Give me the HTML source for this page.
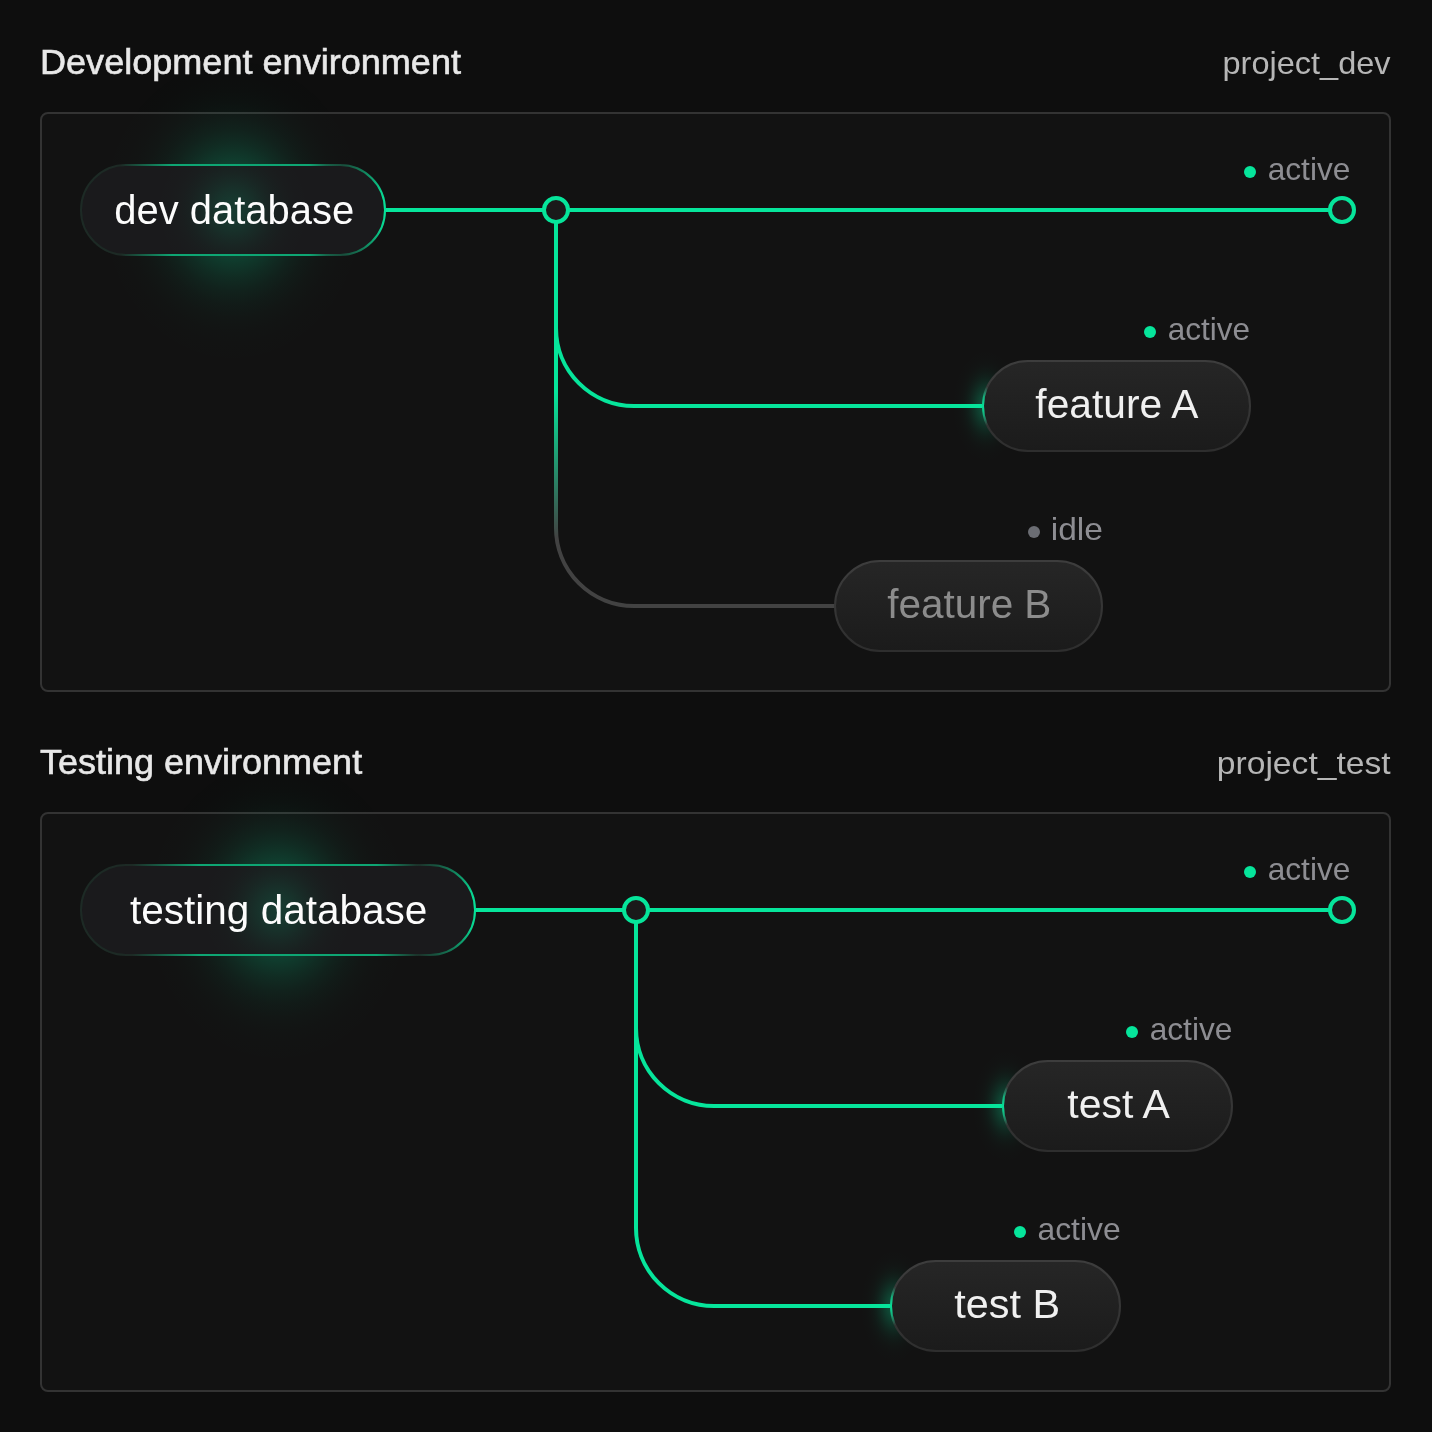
<!DOCTYPE html>
<html><head><meta charset="utf-8"><style>
html,body{margin:0;padding:0;background:#0e0e0e;}
svg{display:block}
text{font-family:"Liberation Sans", sans-serif;}
</style></head><body>
<svg width="1432" height="1432" viewBox="0 0 1432 1432">
<defs><linearGradient id="cf" x1="0" y1="0" x2="0" y2="1">
 <stop offset="0" stop-color="#262626"/>
 <stop offset="1" stop-color="#1b1b1b"/>
</linearGradient>
<linearGradient id="cb" x1="0" y1="0" x2="0" y2="1">
 <stop offset="0" stop-color="#3d3d3d"/>
 <stop offset="1" stop-color="#2e2e2e"/>
</linearGradient>
<linearGradient id="fade1" gradientUnits="userSpaceOnUse" x1="0" y1="392" x2="0" y2="538">
 <stop offset="0" stop-color="#06e59b"/>
 <stop offset="1" stop-color="#424242"/>
</linearGradient><radialGradient id="glow1" gradientUnits="userSpaceOnUse" cx="233.0" cy="210" r="147.5" gradientTransform="translate(233.0 210) scale(0.95 1.1) translate(-233.0 -210)"><stop offset="0.000" stop-color="#06e59b" stop-opacity="0.3600"/><stop offset="0.083" stop-color="#06e59b" stop-opacity="0.3447"/><stop offset="0.167" stop-color="#06e59b" stop-opacity="0.3026"/><stop offset="0.250" stop-color="#06e59b" stop-opacity="0.2436"/><stop offset="0.333" stop-color="#06e59b" stop-opacity="0.1798"/><stop offset="0.417" stop-color="#06e59b" stop-opacity="0.1216"/><stop offset="0.500" stop-color="#06e59b" stop-opacity="0.0755"/><stop offset="0.583" stop-color="#06e59b" stop-opacity="0.0429"/><stop offset="0.667" stop-color="#06e59b" stop-opacity="0.0224"/><stop offset="0.750" stop-color="#06e59b" stop-opacity="0.0107"/><stop offset="0.833" stop-color="#06e59b" stop-opacity="0.0047"/><stop offset="0.917" stop-color="#06e59b" stop-opacity="0.0019"/><stop offset="1.000" stop-color="#06e59b" stop-opacity="0.0007"/></radialGradient><radialGradient id="inglow1" gradientUnits="userSpaceOnUse" cx="233.0" cy="210" r="87.5"><stop offset="0.000" stop-color="#06e59b" stop-opacity="0.1600"/><stop offset="0.083" stop-color="#06e59b" stop-opacity="0.1532"/><stop offset="0.167" stop-color="#06e59b" stop-opacity="0.1345"/><stop offset="0.250" stop-color="#06e59b" stop-opacity="0.1083"/><stop offset="0.333" stop-color="#06e59b" stop-opacity="0.0799"/><stop offset="0.417" stop-color="#06e59b" stop-opacity="0.0541"/><stop offset="0.500" stop-color="#06e59b" stop-opacity="0.0335"/><stop offset="0.583" stop-color="#06e59b" stop-opacity="0.0191"/><stop offset="0.667" stop-color="#06e59b" stop-opacity="0.0099"/><stop offset="0.750" stop-color="#06e59b" stop-opacity="0.0048"/><stop offset="0.833" stop-color="#06e59b" stop-opacity="0.0021"/><stop offset="0.917" stop-color="#06e59b" stop-opacity="0.0008"/><stop offset="1.000" stop-color="#06e59b" stop-opacity="0.0003"/></radialGradient><linearGradient id="bt1" x1="0" y1="0" x2="1" y2="0"><stop offset="0.13" stop-color="#06e59b" stop-opacity="0"/><stop offset="0.30" stop-color="#06e59b" stop-opacity="0.66"/><stop offset="0.75" stop-color="#06e59b" stop-opacity="0.66"/><stop offset="0.86" stop-color="#06e59b" stop-opacity="0"/></linearGradient><radialGradient id="br1" gradientUnits="userSpaceOnUse" cx="386" cy="210" r="75"><stop offset="0" stop-color="#06e59b" stop-opacity="1"/><stop offset="0.25" stop-color="#06e59b" stop-opacity="0.9"/><stop offset="0.6" stop-color="#06e59b" stop-opacity="0.45"/><stop offset="1" stop-color="#06e59b" stop-opacity="0"/></radialGradient><radialGradient id="cg10" gradientUnits="userSpaceOnUse" cx="986" cy="406" r="60" gradientTransform="translate(986 406) scale(0.6 1) translate(-986 -406)"><stop offset="0.000" stop-color="#06e59b" stop-opacity="0.3000"/><stop offset="0.083" stop-color="#06e59b" stop-opacity="0.2873"/><stop offset="0.167" stop-color="#06e59b" stop-opacity="0.2522"/><stop offset="0.250" stop-color="#06e59b" stop-opacity="0.2030"/><stop offset="0.333" stop-color="#06e59b" stop-opacity="0.1498"/><stop offset="0.417" stop-color="#06e59b" stop-opacity="0.1014"/><stop offset="0.500" stop-color="#06e59b" stop-opacity="0.0629"/><stop offset="0.583" stop-color="#06e59b" stop-opacity="0.0358"/><stop offset="0.667" stop-color="#06e59b" stop-opacity="0.0187"/><stop offset="0.750" stop-color="#06e59b" stop-opacity="0.0089"/><stop offset="0.833" stop-color="#06e59b" stop-opacity="0.0039"/><stop offset="0.917" stop-color="#06e59b" stop-opacity="0.0016"/><stop offset="1.000" stop-color="#06e59b" stop-opacity="0.0006"/></radialGradient><radialGradient id="cbg10" gradientUnits="userSpaceOnUse" cx="982" cy="406" r="20"><stop offset="0" stop-color="#06e59b" stop-opacity="1"/><stop offset="0.45" stop-color="#06e59b" stop-opacity="0.7"/><stop offset="1" stop-color="#06e59b" stop-opacity="0"/></radialGradient><radialGradient id="glow2" gradientUnits="userSpaceOnUse" cx="278.0" cy="910" r="147.5" gradientTransform="translate(278.0 910) scale(0.95 1.1) translate(-278.0 -910)"><stop offset="0.000" stop-color="#06e59b" stop-opacity="0.3600"/><stop offset="0.083" stop-color="#06e59b" stop-opacity="0.3447"/><stop offset="0.167" stop-color="#06e59b" stop-opacity="0.3026"/><stop offset="0.250" stop-color="#06e59b" stop-opacity="0.2436"/><stop offset="0.333" stop-color="#06e59b" stop-opacity="0.1798"/><stop offset="0.417" stop-color="#06e59b" stop-opacity="0.1216"/><stop offset="0.500" stop-color="#06e59b" stop-opacity="0.0755"/><stop offset="0.583" stop-color="#06e59b" stop-opacity="0.0429"/><stop offset="0.667" stop-color="#06e59b" stop-opacity="0.0224"/><stop offset="0.750" stop-color="#06e59b" stop-opacity="0.0107"/><stop offset="0.833" stop-color="#06e59b" stop-opacity="0.0047"/><stop offset="0.917" stop-color="#06e59b" stop-opacity="0.0019"/><stop offset="1.000" stop-color="#06e59b" stop-opacity="0.0007"/></radialGradient><radialGradient id="inglow2" gradientUnits="userSpaceOnUse" cx="278.0" cy="910" r="87.5"><stop offset="0.000" stop-color="#06e59b" stop-opacity="0.1600"/><stop offset="0.083" stop-color="#06e59b" stop-opacity="0.1532"/><stop offset="0.167" stop-color="#06e59b" stop-opacity="0.1345"/><stop offset="0.250" stop-color="#06e59b" stop-opacity="0.1083"/><stop offset="0.333" stop-color="#06e59b" stop-opacity="0.0799"/><stop offset="0.417" stop-color="#06e59b" stop-opacity="0.0541"/><stop offset="0.500" stop-color="#06e59b" stop-opacity="0.0335"/><stop offset="0.583" stop-color="#06e59b" stop-opacity="0.0191"/><stop offset="0.667" stop-color="#06e59b" stop-opacity="0.0099"/><stop offset="0.750" stop-color="#06e59b" stop-opacity="0.0048"/><stop offset="0.833" stop-color="#06e59b" stop-opacity="0.0021"/><stop offset="0.917" stop-color="#06e59b" stop-opacity="0.0008"/><stop offset="1.000" stop-color="#06e59b" stop-opacity="0.0003"/></radialGradient><linearGradient id="bt2" x1="0" y1="0" x2="1" y2="0"><stop offset="0.13" stop-color="#06e59b" stop-opacity="0"/><stop offset="0.30" stop-color="#06e59b" stop-opacity="0.66"/><stop offset="0.75" stop-color="#06e59b" stop-opacity="0.66"/><stop offset="0.86" stop-color="#06e59b" stop-opacity="0"/></linearGradient><radialGradient id="br2" gradientUnits="userSpaceOnUse" cx="476" cy="910" r="75"><stop offset="0" stop-color="#06e59b" stop-opacity="1"/><stop offset="0.25" stop-color="#06e59b" stop-opacity="0.9"/><stop offset="0.6" stop-color="#06e59b" stop-opacity="0.45"/><stop offset="1" stop-color="#06e59b" stop-opacity="0"/></radialGradient><radialGradient id="cg20" gradientUnits="userSpaceOnUse" cx="1006" cy="1106" r="60" gradientTransform="translate(1006 1106) scale(0.6 1) translate(-1006 -1106)"><stop offset="0.000" stop-color="#06e59b" stop-opacity="0.3000"/><stop offset="0.083" stop-color="#06e59b" stop-opacity="0.2873"/><stop offset="0.167" stop-color="#06e59b" stop-opacity="0.2522"/><stop offset="0.250" stop-color="#06e59b" stop-opacity="0.2030"/><stop offset="0.333" stop-color="#06e59b" stop-opacity="0.1498"/><stop offset="0.417" stop-color="#06e59b" stop-opacity="0.1014"/><stop offset="0.500" stop-color="#06e59b" stop-opacity="0.0629"/><stop offset="0.583" stop-color="#06e59b" stop-opacity="0.0358"/><stop offset="0.667" stop-color="#06e59b" stop-opacity="0.0187"/><stop offset="0.750" stop-color="#06e59b" stop-opacity="0.0089"/><stop offset="0.833" stop-color="#06e59b" stop-opacity="0.0039"/><stop offset="0.917" stop-color="#06e59b" stop-opacity="0.0016"/><stop offset="1.000" stop-color="#06e59b" stop-opacity="0.0006"/></radialGradient><radialGradient id="cbg20" gradientUnits="userSpaceOnUse" cx="1002" cy="1106" r="20"><stop offset="0" stop-color="#06e59b" stop-opacity="1"/><stop offset="0.45" stop-color="#06e59b" stop-opacity="0.7"/><stop offset="1" stop-color="#06e59b" stop-opacity="0"/></radialGradient><radialGradient id="cg21" gradientUnits="userSpaceOnUse" cx="894" cy="1306" r="60" gradientTransform="translate(894 1306) scale(0.6 1) translate(-894 -1306)"><stop offset="0.000" stop-color="#06e59b" stop-opacity="0.3000"/><stop offset="0.083" stop-color="#06e59b" stop-opacity="0.2873"/><stop offset="0.167" stop-color="#06e59b" stop-opacity="0.2522"/><stop offset="0.250" stop-color="#06e59b" stop-opacity="0.2030"/><stop offset="0.333" stop-color="#06e59b" stop-opacity="0.1498"/><stop offset="0.417" stop-color="#06e59b" stop-opacity="0.1014"/><stop offset="0.500" stop-color="#06e59b" stop-opacity="0.0629"/><stop offset="0.583" stop-color="#06e59b" stop-opacity="0.0358"/><stop offset="0.667" stop-color="#06e59b" stop-opacity="0.0187"/><stop offset="0.750" stop-color="#06e59b" stop-opacity="0.0089"/><stop offset="0.833" stop-color="#06e59b" stop-opacity="0.0039"/><stop offset="0.917" stop-color="#06e59b" stop-opacity="0.0016"/><stop offset="1.000" stop-color="#06e59b" stop-opacity="0.0006"/></radialGradient><radialGradient id="cbg21" gradientUnits="userSpaceOnUse" cx="890" cy="1306" r="20"><stop offset="0" stop-color="#06e59b" stop-opacity="1"/><stop offset="0.45" stop-color="#06e59b" stop-opacity="0.7"/><stop offset="1" stop-color="#06e59b" stop-opacity="0"/></radialGradient></defs>
<rect width="1432" height="1432" fill="#0e0e0e"/>
<text x="40.02" y="74" textLength="420.97" lengthAdjust="spacingAndGlyphs" font-size="35" fill="#e8e8e8" style="will-change:opacity" stroke="#e8e8e8" stroke-width="0.6">Development environment</text>
<text x="1222.49" y="74" textLength="168.08" lengthAdjust="spacingAndGlyphs" font-size="32" fill="#b6b6b6" style="will-change:opacity" >project_dev</text>
<rect x="41" y="113" width="1349" height="578" rx="7" fill="#121212" stroke="#333333" stroke-width="2"/>
<path d="M556,210 V328 A78,78 0 0 0 634,406 H983" fill="none" stroke="#06e59b" stroke-width="4"/>
<path d="M556,210 V528 A78,78 0 0 0 634,606 H835" fill="none" stroke="url(#fade1)" stroke-width="4"/>
<path d="M386,210 H1342" fill="none" stroke="#06e59b" stroke-width="4"/>
<ellipse cx="233.0" cy="210" rx="140.125" ry="162.25" fill="url(#glow1)"/>
<rect x="81" y="165.0" width="304" height="90" rx="45.0" fill="#1a1a1c"/>
<rect x="81" y="165.0" width="304" height="90" rx="45.0" fill="url(#inglow1)"/>
<rect x="81" y="165.0" width="304" height="90" rx="45.0" fill="none" stroke-width="2" stroke="#1d2a25"/>
<rect x="81" y="165.0" width="304" height="90" rx="45.0" fill="none" stroke-width="2" stroke="url(#bt1)"/>
<rect x="81" y="165.0" width="304" height="90" rx="45.0" fill="none" stroke-width="2" stroke="url(#br1)"/>
<text x="114.30" y="224" textLength="239.90" lengthAdjust="spacingAndGlyphs" font-size="40" fill="#fcfcfc" style="will-change:opacity" >dev database</text>
<circle cx="556" cy="210" r="12" fill="#1a1a1a" stroke="#06e59b" stroke-width="4"/>
<circle cx="1342" cy="210" r="12" fill="#1a1a1a" stroke="#06e59b" stroke-width="4"/>
<circle cx="1250" cy="172" r="6" fill="#06e59b"/><text x="1267.65" y="180.3" textLength="82.77" lengthAdjust="spacingAndGlyphs" font-size="32" fill="#8d8d92" style="will-change:opacity" >active</text>
<rect x="922" y="346" width="120" height="120" fill="url(#cg10)"/>
<rect x="983" y="361.0" width="267" height="90" rx="45.0" fill="url(#cf)" stroke="url(#cb)" stroke-width="2"/>
<rect x="983" y="361.0" width="267" height="90" rx="45.0" fill="none" stroke="url(#cbg10)" stroke-width="2"/>
<text x="1035.39" y="418" textLength="162.94" lengthAdjust="spacingAndGlyphs" font-size="40" fill="#f0f0f0" style="will-change:opacity" >feature A</text>
<circle cx="1150" cy="332" r="6" fill="#06e59b"/><text x="1167.66" y="340.3" textLength="82.35" lengthAdjust="spacingAndGlyphs" font-size="32" fill="#8d8d92" style="will-change:opacity" >active</text>
<rect x="835" y="561.0" width="267" height="90" rx="45.0" fill="url(#cf)" stroke="url(#cb)" stroke-width="2"/>
<text x="887.19" y="618" textLength="164.16" lengthAdjust="spacingAndGlyphs" font-size="40" fill="#8c8c8c" style="will-change:opacity" >feature B</text>
<circle cx="1034" cy="532" r="6" fill="#6b6d73"/><text x="1050.73" y="540.3" textLength="52.25" lengthAdjust="spacingAndGlyphs" font-size="32" fill="#8d8d92" style="will-change:opacity" >idle</text><text x="39.99" y="774" textLength="322.16" lengthAdjust="spacingAndGlyphs" font-size="35" fill="#e8e8e8" style="will-change:opacity" stroke="#e8e8e8" stroke-width="0.6">Testing environment</text>
<text x="1216.81" y="774" textLength="173.82" lengthAdjust="spacingAndGlyphs" font-size="32" fill="#b6b6b6" style="will-change:opacity" >project_test</text>
<rect x="41" y="813" width="1349" height="578" rx="7" fill="#121212" stroke="#333333" stroke-width="2"/>
<path d="M636,910 V1028 A78,78 0 0 0 714,1106 H1003" fill="none" stroke="#06e59b" stroke-width="4"/>
<path d="M636,910 V1228 A78,78 0 0 0 714,1306 H891" fill="none" stroke="#06e59b" stroke-width="4"/>
<path d="M476,910 H1342" fill="none" stroke="#06e59b" stroke-width="4"/>
<ellipse cx="278.0" cy="910" rx="140.125" ry="162.25" fill="url(#glow2)"/>
<rect x="81" y="865.0" width="394" height="90" rx="45.0" fill="#1a1a1c"/>
<rect x="81" y="865.0" width="394" height="90" rx="45.0" fill="url(#inglow2)"/>
<rect x="81" y="865.0" width="394" height="90" rx="45.0" fill="none" stroke-width="2" stroke="#1d2a25"/>
<rect x="81" y="865.0" width="394" height="90" rx="45.0" fill="none" stroke-width="2" stroke="url(#bt2)"/>
<rect x="81" y="865.0" width="394" height="90" rx="45.0" fill="none" stroke-width="2" stroke="url(#br2)"/>
<text x="129.99" y="924" textLength="297.40" lengthAdjust="spacingAndGlyphs" font-size="40" fill="#fcfcfc" style="will-change:opacity" >testing database</text>
<circle cx="636" cy="910" r="12" fill="#1a1a1a" stroke="#06e59b" stroke-width="4"/>
<circle cx="1342" cy="910" r="12" fill="#1a1a1a" stroke="#06e59b" stroke-width="4"/>
<circle cx="1250" cy="872" r="6" fill="#06e59b"/><text x="1267.65" y="880.3" textLength="82.77" lengthAdjust="spacingAndGlyphs" font-size="32" fill="#8d8d92" style="will-change:opacity" >active</text>
<rect x="942" y="1046" width="120" height="120" fill="url(#cg20)"/>
<rect x="1003" y="1061.0" width="229" height="90" rx="45.0" fill="url(#cf)" stroke="url(#cb)" stroke-width="2"/>
<rect x="1003" y="1061.0" width="229" height="90" rx="45.0" fill="none" stroke="url(#cbg20)" stroke-width="2"/>
<text x="1067.39" y="1118" textLength="102.38" lengthAdjust="spacingAndGlyphs" font-size="40" fill="#f0f0f0" style="will-change:opacity" >test A</text>
<circle cx="1132" cy="1032" r="6" fill="#06e59b"/><text x="1149.65" y="1040.3" textLength="82.77" lengthAdjust="spacingAndGlyphs" font-size="32" fill="#8d8d92" style="will-change:opacity" >active</text>
<rect x="830" y="1246" width="120" height="120" fill="url(#cg21)"/>
<rect x="891" y="1261.0" width="229" height="90" rx="45.0" fill="url(#cf)" stroke="url(#cb)" stroke-width="2"/>
<rect x="891" y="1261.0" width="229" height="90" rx="45.0" fill="none" stroke="url(#cbg21)" stroke-width="2"/>
<text x="954.38" y="1318" textLength="105.76" lengthAdjust="spacingAndGlyphs" font-size="40" fill="#f0f0f0" style="will-change:opacity" >test B</text>
<circle cx="1020" cy="1232" r="6" fill="#06e59b"/><text x="1037.45" y="1240.3" textLength="83.18" lengthAdjust="spacingAndGlyphs" font-size="32" fill="#8d8d92" style="will-change:opacity" >active</text>
</svg>
</body></html>
